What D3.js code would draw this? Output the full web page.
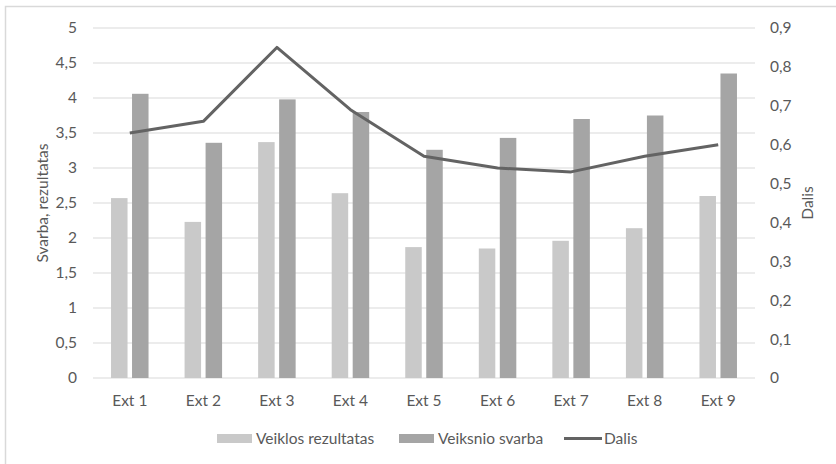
<!DOCTYPE html>
<html><head><meta charset="utf-8">
<script src="https://cdn.jsdelivr.net/npm/d3@7"></script>
<style>body{margin:0;background:#fff}svg{display:block}text{font-family:Lato,"Open Sans",sans-serif;fill:#595959}</style>
</head><body><svg id="c" width="836" height="464"></svg>
<script>
const categories = ["Ext 1","Ext 2","Ext 3","Ext 4","Ext 5","Ext 6","Ext 7","Ext 8","Ext 9"];
const veiklosRezultatas = [2.57,2.23,3.37,2.64,1.87,1.85,1.96,2.14,2.60];
const veiksnioSvarba = [4.06,3.36,3.98,3.80,3.26,3.43,3.70,3.75,4.35];
const dalis = [0.63,0.66,0.85,0.69,0.57,0.54,0.53,0.57,0.60];
const leftTicks = [0,0.5,1,1.5,2,2.5,3,3.5,4,4.5,5];
const rightTicks = [0,0.1,0.2,0.3,0.4,0.5,0.6,0.7,0.8,0.9];
const seriesNames = ["Veiklos rezultatas","Veiksnio svarba","Dalis"];
const colors = ["#c9c9c9","#a5a5a5","#636363"];

const svg = d3.select("#c");
const fs = 15.5;
const fmt = v => String(v).replace(".", ",");
svg.append("rect").attr("x",5.5).attr("y",6.5).attr("width",900).attr("height",900)
  .attr("fill","none").attr("stroke","#d9d9d9").attr("stroke-width",1.5);

const L=93, R=755, T=28, B=378;
const x = d3.scaleBand().domain(categories).range([L,R]);
const yL = d3.scaleLinear().domain([0,5]).range([B,T]);
const yR = d3.scaleLinear().domain([0,0.9]).range([B,T]);

svg.append("g").selectAll("line").data(leftTicks).join("line")
  .attr("x1",L).attr("x2",R).attr("y1",d=>yL(d)).attr("y2",d=>yL(d))
  .attr("stroke","#d9d9d9").attr("stroke-width",1);

function style(g){
  g.select(".domain").remove();
  g.selectAll("text").attr("font-size",fs).attr("font-family","Lato").attr("fill","#595959");
}
svg.append("g").attr("transform",`translate(${L-16},0)`)
  .call(d3.axisLeft(yL).tickValues(leftTicks).tickFormat(fmt).tickSize(0).tickPadding(0)).call(style);
svg.append("g").attr("transform",`translate(${R+15},0)`)
  .call(d3.axisRight(yR).tickValues(rightTicks).tickFormat(fmt).tickSize(0).tickPadding(0)).call(style);
const axB = svg.append("g").attr("transform",`translate(0,${B+23})`)
  .call(d3.axisBottom(x).tickSize(0).tickPadding(0)).call(style);
axB.selectAll("text").attr("dy","0.35em");

const bw = 16.5, gap = 4.5;
const inner = d3.scaleBand().domain([0,1]).range([-(bw+gap/2), bw+gap/2]).paddingInner(gap/(bw+gap)).paddingOuter(0);
[veiklosRezultatas, veiksnioSvarba].forEach((vals,si)=>{
  svg.append("g").selectAll("rect").data(vals).join("rect")
    .attr("x",(d,i)=>x(categories[i])+x.bandwidth()/2+inner(si))
    .attr("width",inner.bandwidth())
    .attr("y",d=>yL(d)).attr("height",d=>B-yL(d))
    .attr("fill",colors[si]);
});

const line = d3.line().x((d,i)=>x(categories[i])+x.bandwidth()/2).y(d=>yR(d));
svg.append("path").datum(dalis).attr("d",line).attr("fill","none")
  .attr("stroke",colors[2]).attr("stroke-width",3).attr("stroke-linejoin","round");

svg.append("text").attr("transform","translate(43,203) rotate(-90)").attr("text-anchor","middle")
  .attr("dy","0.35em").attr("font-size",fs).text("Svarba, rezultatas");
svg.append("text").attr("transform","translate(808,203) rotate(-90)").attr("text-anchor","middle")
  .attr("dy","0.35em").attr("font-size",fs).text("Dalis");

const lg = svg.append("g");
const lx = [217,399,564];
seriesNames.forEach((n,i)=>{
  if(i<2) lg.append("rect").attr("x",lx[i]).attr("y",434).attr("width",35).attr("height",9).attr("fill",colors[i]);
  else lg.append("line").attr("x1",lx[i]).attr("x2",lx[i]+38).attr("y1",438.5).attr("y2",438.5).attr("stroke",colors[i]).attr("stroke-width",3);
  lg.append("text").attr("x",lx[i]+(i<2?39:40)).attr("y",439).attr("dy","0.35em").attr("font-size",fs).text(n);
});
</script></body></html>
